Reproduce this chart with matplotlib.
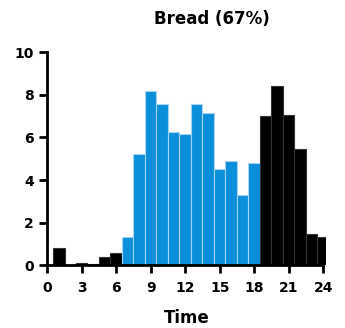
import numpy as np
import matplotlib.pyplot as plt

# data
hours = np.arange(1, 25)
counts = [0.8, 0.02, 0.1, 0.05, 0.4, 0.6, 1.35, 5.2, 8.2, 7.55, 6.25, 6.15,
          7.55, 7.15, 4.5, 4.9, 3.3, 4.8, 7.0, 8.4, 7.05, 5.45, 1.45, 1.35]
day_hours = range(7, 19)
xticks = [0, 3, 6, 9, 12, 15, 18, 21, 24]
yticks = [0, 2, 4, 6, 8, 10]

fig = plt.figure(figsize=(3.45, 3.28), dpi=100)
ax = fig.add_axes([0.137, 0.191, 0.808, 0.65])

colors = ['#0b8fdb' if h in day_hours else 'black' for h in hours]
edges = ['#a6d5f2' if h in day_hours else '#333333' for h in hours]
ax.bar(hours, counts, width=1.0, color=colors, edgecolor=edges, linewidth=0.8)

ax.set_xlim(0, 24.25)
ax.set_ylim(0, 10)
ax.spines['top'].set_visible(False)
ax.spines['right'].set_visible(False)
ax.spines['left'].set_linewidth(2)
ax.spines['bottom'].set_linewidth(2)
ax.spines['bottom'].set_bounds(0, 24)
ax.set_xticks(xticks)
ax.set_yticks(yticks)
ax.tick_params(width=2, length=6, labelsize=10)
ax.tick_params(axis='x', pad=5)
for lab in ax.get_xticklabels() + ax.get_yticklabels():
    lab.set_fontweight('bold')
ax.set_xlabel('Time', fontsize=12, fontweight='bold', labelpad=10)
fig.text(0.615, 0.97, 'Bread (67%)', ha='center', va='top', fontsize=12, fontweight='bold')

fig.savefig('out.png', dpi=100)
